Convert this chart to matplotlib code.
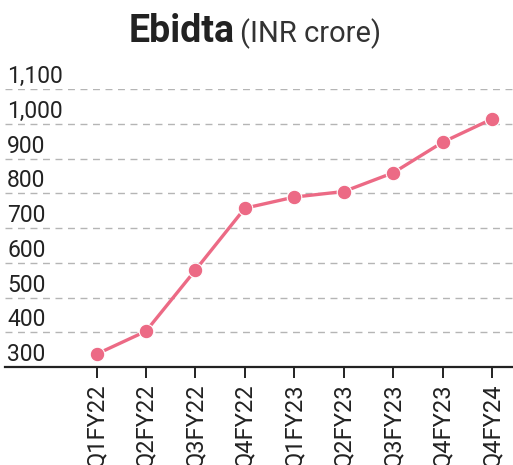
import matplotlib
matplotlib.use("Agg")
import matplotlib.pyplot as plt
import matplotlib.transforms as mtransforms

quarters = ["Q1FY22", "Q2FY22", "Q3FY22", "Q4FY22", "Q1FY23",
            "Q2FY23", "Q3FY23", "Q4FY23", "Q4FY24"]
ebidta = [337, 403, 579, 757, 789, 805, 859, 947, 1014]
y_ticks = [300, 400, 500, 600, 700, 800, 900, 1000, 1100]

plt.rcParams['font.family'] = ['Roboto', 'DejaVu Sans']

fig = plt.figure(figsize=(5.13, 4.65), dpi=100)
ax = fig.add_axes([5 / 513, 1 - 367 / 465, 1 - 5 / 513, (367 - 89) / 465])

pink = '#EC6A85'
x = list(range(len(quarters)))
ax.plot(x, ebidta, color=pink, lw=2.4, marker='o', markersize=10.5,
        markeredgecolor='white', markeredgewidth=0.8, clip_on=False, zorder=3)

ax.set_xlim(-1.85, 8.42)
ax.set_ylim(300, 1100)
ax.set_xticks(x)
ax.set_xticklabels(quarters, rotation=90, fontsize=17, color='#222222')
ax.tick_params(axis='x', length=8, width=1.4, color='#222222', pad=4)
ax.set_yticks(y_ticks)
ax.set_yticklabels([])
ax.tick_params(axis='y', length=0)

ax.grid(axis='y', color='#b5b5b5', linestyle=(0, (5, 4)), linewidth=1)
ax.set_axisbelow(True)
for s in ['top', 'right', 'left']:
    ax.spines[s].set_visible(False)
ax.spines['bottom'].set_color('#222222')
ax.spines['bottom'].set_linewidth(1.6)

# y labels sit just above their gridlines, inside the plot
trans = mtransforms.blended_transform_factory(ax.transAxes, ax.transData)
offset = mtransforms.ScaledTranslation(0, 6 / 100, fig.dpi_scale_trans)
for v in y_ticks:
    ax.text(0.004, v, f"{v:,}", transform=trans + offset, fontsize=16.5,
            color='#222222', ha='left', va='baseline')

fig.text(235 / 513, 1 - 42 / 465, "Ebidta", fontsize=27, fontweight='bold',
         color='#222222', ha='right', va='baseline')
fig.text(240 / 513, 1 - 42 / 465, "(INR crore)", fontsize=21, fontweight='normal',
         color='#333333', ha='left', va='baseline')

fig.savefig("out.png", dpi=100, facecolor='white')
